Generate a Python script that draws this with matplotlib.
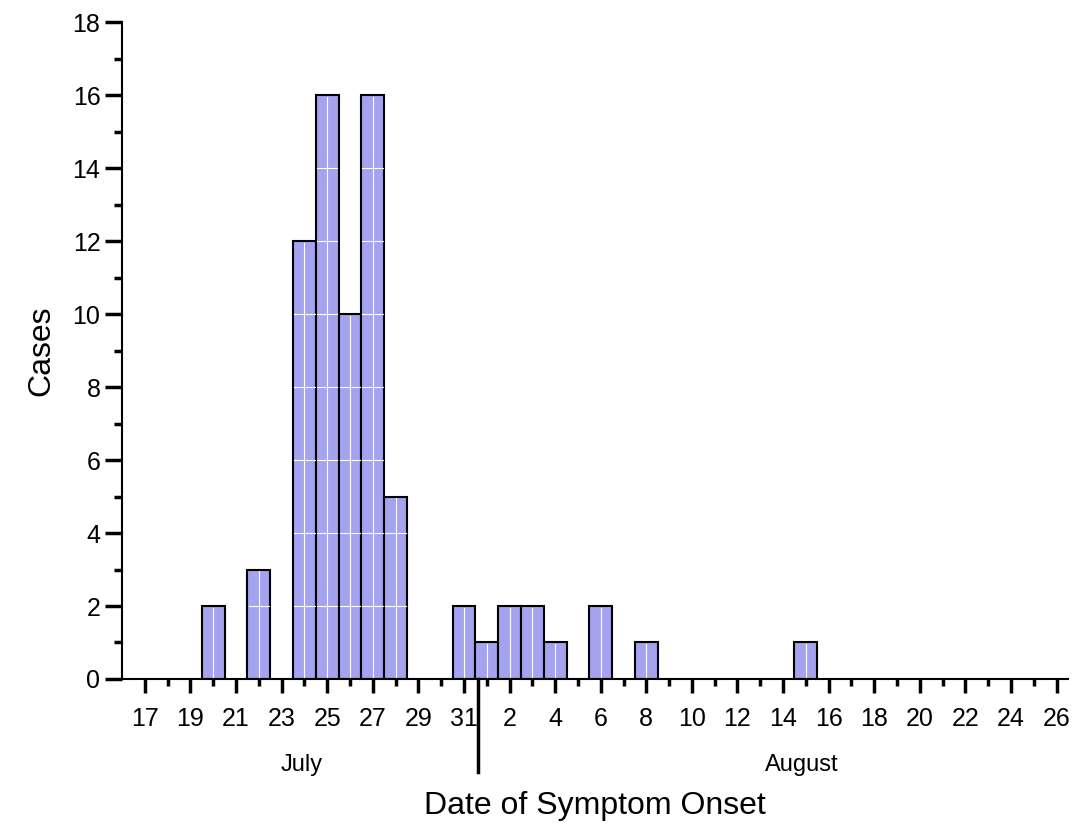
import matplotlib.pyplot as plt
import numpy as np

plt.rcParams['font.family'] = ['Liberation Sans', 'DejaVu Sans']

# day index 0 = July 17
tick_labels = [17, 19, 21, 23, 25, 27, 29, 31, 2, 4, 6, 8, 10, 12, 14, 16, 18, 20, 22, 24, 26]
days = [3, 5, 7, 8, 9, 10, 11, 14, 15, 16, 17, 18, 20, 22, 29]
cases = [2, 3, 12, 16, 10, 16, 5, 2, 1, 2, 2, 1, 2, 1, 1]

fig = plt.figure(figsize=(10.72, 8.25), dpi=100)
ax = fig.add_axes([0.1138, 0.177, 0.8825, 0.796])

ax.bar(days, cases, width=1.0, color='#a3a3f0', edgecolor='black', linewidth=1.5, zorder=2)
# light grid inside bars
for d, c in zip(days, cases):
    for yy in np.arange(2, c, 2):
        ax.plot([d - 0.45, d + 0.45], [yy, yy], color='white', lw=0.8, zorder=3)
    ax.plot([d, d], [0.05, c - 0.05], color='white', lw=0.8, zorder=3)

ax.set_xlim(-1.0, 40.5)
ax.set_ylim(0, 18)
ax.spines['top'].set_visible(False)
ax.spines['right'].set_visible(False)
ax.spines['left'].set_linewidth(1.5)
ax.spines['bottom'].set_linewidth(1.5)

ax.set_xticks(np.arange(0, 41, 2))
ax.set_xticklabels([str(t) for t in tick_labels])
ax.set_xticks(np.arange(1, 40, 2), minor=True)
ax.set_yticks(np.arange(0, 19, 2))
ax.set_yticks(np.arange(1, 18, 2), minor=True)
ax.tick_params(axis='y', which='major', length=12, width=2.5, labelsize=18, direction='out')
ax.tick_params(axis='y', which='minor', length=6, width=2.5, direction='out')
ax.tick_params(axis='x', which='both', direction='in', width=2.5, labelsize=18, pad=20)
for t in ax.xaxis.get_major_ticks() + ax.xaxis.get_minor_ticks():
    t.tick1line.set_marker(3)  # downward tick
for t in ax.xaxis.get_minor_ticks():
    t.tick1line.set_markersize(5)
for t in ax.xaxis.get_major_ticks():
    t.tick1line.set_markersize(10)

ax.plot([14.6, 14.6], [0, -0.1416], transform=ax.get_xaxis_transform(),
        color='black', lw=2.5, clip_on=False)
ax.text(6.9, -0.131, 'July', transform=ax.get_xaxis_transform(), ha='center', va='center', fontsize=17)
ax.text(28.8, -0.131, 'August', transform=ax.get_xaxis_transform(), ha='center', va='center', fontsize=17)

ax.set_xlabel('Date of Symptom Onset', fontsize=23)
ax.xaxis.set_label_coords(0.5, -0.17)
ax.xaxis.label.set_va('top')
ax.set_ylabel('Cases', fontsize=23, labelpad=12)

fig.savefig('out.png', dpi=100)
